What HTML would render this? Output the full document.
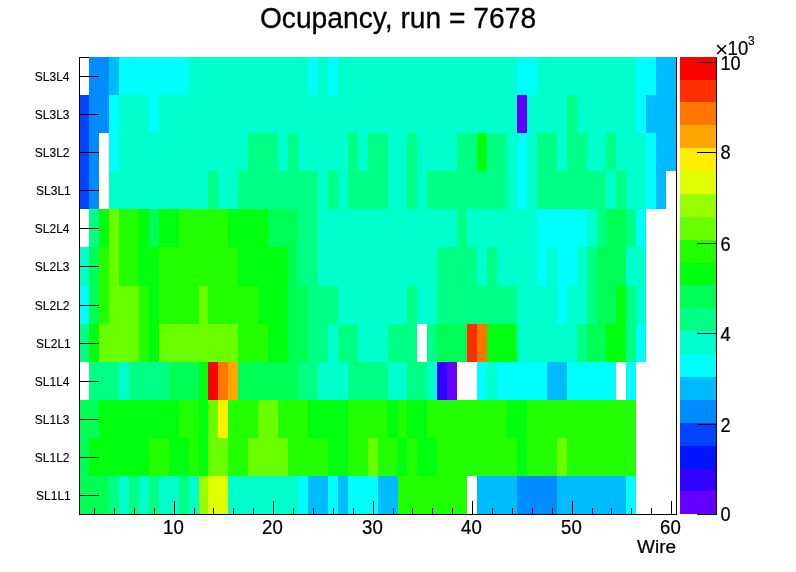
<!DOCTYPE html>
<html><head><meta charset="utf-8"><title>Ocupancy, run = 7678</title>
<style>
html,body{margin:0;padding:0;background:#fff;}
svg{display:block;}
text{font-family:"Liberation Sans",sans-serif;fill:#000;}
</style></head><body>
<svg width="796" height="572" viewBox="0 0 796 572">
<rect x="0" y="0" width="796" height="572" fill="#fff"/>
<g shape-rendering="crispEdges">
<rect x="79" y="57" width="598" height="1" fill="#000"/>
<rect x="89" y="57" width="20" height="38" fill="#008bff"/>
<rect x="109" y="57" width="10" height="38" fill="#00bbff"/>
<rect x="119" y="57" width="70" height="38" fill="#00fffc"/>
<rect x="189" y="57" width="119" height="38" fill="#00ffcc"/>
<rect x="308" y="57" width="10" height="38" fill="#00fffc"/>
<rect x="318" y="57" width="10" height="38" fill="#00ffcc"/>
<rect x="328" y="57" width="10" height="38" fill="#00fffc"/>
<rect x="338" y="57" width="179" height="38" fill="#00ffcc"/>
<rect x="517" y="57" width="20" height="38" fill="#00fffc"/>
<rect x="537" y="57" width="99" height="38" fill="#00ffcc"/>
<rect x="636" y="57" width="20" height="38" fill="#00fffc"/>
<rect x="656" y="57" width="20" height="38" fill="#00bbff"/>
<rect x="80" y="95" width="9" height="38" fill="#0044ff"/>
<rect x="89" y="95" width="20" height="38" fill="#008bff"/>
<rect x="109" y="95" width="10" height="38" fill="#00fffc"/>
<rect x="119" y="95" width="30" height="38" fill="#00ffcc"/>
<rect x="149" y="95" width="10" height="38" fill="#00fffc"/>
<rect x="159" y="95" width="358" height="38" fill="#00ffcc"/>
<rect x="517" y="95" width="10" height="38" fill="#6300ff"/>
<rect x="527" y="95" width="40" height="38" fill="#00ffcc"/>
<rect x="567" y="95" width="10" height="38" fill="#00ff85"/>
<rect x="577" y="95" width="59" height="38" fill="#00ffcc"/>
<rect x="636" y="95" width="10" height="38" fill="#00fffc"/>
<rect x="646" y="95" width="30" height="38" fill="#00bbff"/>
<rect x="80" y="133" width="9" height="38" fill="#0044ff"/>
<rect x="89" y="133" width="10" height="38" fill="#008bff"/>
<rect x="109" y="133" width="10" height="38" fill="#00fffc"/>
<rect x="119" y="133" width="129" height="38" fill="#00ffcc"/>
<rect x="248" y="133" width="30" height="38" fill="#00ff85"/>
<rect x="278" y="133" width="10" height="38" fill="#00ffcc"/>
<rect x="288" y="133" width="10" height="38" fill="#00ff85"/>
<rect x="298" y="133" width="50" height="38" fill="#00ffcc"/>
<rect x="348" y="133" width="10" height="38" fill="#00ff85"/>
<rect x="358" y="133" width="10" height="38" fill="#00ffcc"/>
<rect x="368" y="133" width="20" height="38" fill="#00ff85"/>
<rect x="388" y="133" width="19" height="38" fill="#00ffcc"/>
<rect x="407" y="133" width="10" height="38" fill="#00ff85"/>
<rect x="417" y="133" width="40" height="38" fill="#00ffcc"/>
<rect x="457" y="133" width="20" height="38" fill="#00ff85"/>
<rect x="477" y="133" width="10" height="38" fill="#00ff0e"/>
<rect x="487" y="133" width="20" height="38" fill="#00ff85"/>
<rect x="507" y="133" width="10" height="38" fill="#00ffcc"/>
<rect x="517" y="133" width="10" height="38" fill="#00fffc"/>
<rect x="527" y="133" width="10" height="38" fill="#00ffcc"/>
<rect x="537" y="133" width="20" height="38" fill="#00ff85"/>
<rect x="557" y="133" width="10" height="38" fill="#00ffcc"/>
<rect x="567" y="133" width="20" height="38" fill="#00ff85"/>
<rect x="587" y="133" width="19" height="38" fill="#00ffcc"/>
<rect x="606" y="133" width="10" height="38" fill="#00ff85"/>
<rect x="616" y="133" width="30" height="38" fill="#00ffcc"/>
<rect x="646" y="133" width="10" height="38" fill="#00fffc"/>
<rect x="656" y="133" width="20" height="38" fill="#00bbff"/>
<rect x="80" y="171" width="9" height="38" fill="#0044ff"/>
<rect x="89" y="171" width="10" height="38" fill="#008bff"/>
<rect x="109" y="171" width="99" height="38" fill="#00ffcc"/>
<rect x="208" y="171" width="10" height="38" fill="#00ff85"/>
<rect x="218" y="171" width="20" height="38" fill="#00ffcc"/>
<rect x="238" y="171" width="80" height="38" fill="#00ff85"/>
<rect x="318" y="171" width="10" height="38" fill="#00ffcc"/>
<rect x="328" y="171" width="10" height="38" fill="#00ff85"/>
<rect x="338" y="171" width="10" height="38" fill="#00ffcc"/>
<rect x="348" y="171" width="40" height="38" fill="#00ff85"/>
<rect x="388" y="171" width="19" height="38" fill="#00ffcc"/>
<rect x="407" y="171" width="10" height="38" fill="#00ff85"/>
<rect x="417" y="171" width="10" height="38" fill="#00ffcc"/>
<rect x="427" y="171" width="80" height="38" fill="#00ff85"/>
<rect x="507" y="171" width="10" height="38" fill="#00ffcc"/>
<rect x="517" y="171" width="10" height="38" fill="#00fffc"/>
<rect x="527" y="171" width="10" height="38" fill="#00ffcc"/>
<rect x="537" y="171" width="69" height="38" fill="#00ff85"/>
<rect x="606" y="171" width="10" height="38" fill="#00ffcc"/>
<rect x="616" y="171" width="10" height="38" fill="#00ff85"/>
<rect x="626" y="171" width="20" height="38" fill="#00ffcc"/>
<rect x="646" y="171" width="10" height="38" fill="#00fffc"/>
<rect x="656" y="171" width="10" height="38" fill="#00bbff"/>
<rect x="89" y="209" width="10" height="38" fill="#00ff85"/>
<rect x="99" y="209" width="10" height="38" fill="#00ff0e"/>
<rect x="109" y="209" width="10" height="38" fill="#69ff00"/>
<rect x="119" y="209" width="20" height="38" fill="#22ff00"/>
<rect x="139" y="209" width="10" height="38" fill="#00ff0e"/>
<rect x="149" y="209" width="10" height="38" fill="#00ff55"/>
<rect x="159" y="209" width="20" height="38" fill="#00ff0e"/>
<rect x="179" y="209" width="49" height="38" fill="#22ff00"/>
<rect x="228" y="209" width="40" height="38" fill="#00ff0e"/>
<rect x="268" y="209" width="30" height="38" fill="#00ff55"/>
<rect x="298" y="209" width="20" height="38" fill="#00ff85"/>
<rect x="318" y="209" width="139" height="38" fill="#00ffcc"/>
<rect x="457" y="209" width="10" height="38" fill="#00ff85"/>
<rect x="467" y="209" width="70" height="38" fill="#00ffcc"/>
<rect x="537" y="209" width="50" height="38" fill="#00fffc"/>
<rect x="587" y="209" width="10" height="38" fill="#00ffcc"/>
<rect x="597" y="209" width="9" height="38" fill="#00ff85"/>
<rect x="606" y="209" width="20" height="38" fill="#00ff55"/>
<rect x="626" y="209" width="10" height="38" fill="#00ff85"/>
<rect x="636" y="209" width="10" height="38" fill="#00fffc"/>
<rect x="80" y="247" width="9" height="39" fill="#00ffcc"/>
<rect x="89" y="247" width="10" height="39" fill="#00ff55"/>
<rect x="99" y="247" width="10" height="39" fill="#22ff00"/>
<rect x="109" y="247" width="10" height="39" fill="#69ff00"/>
<rect x="119" y="247" width="20" height="39" fill="#22ff00"/>
<rect x="139" y="247" width="20" height="39" fill="#00ff0e"/>
<rect x="159" y="247" width="79" height="39" fill="#22ff00"/>
<rect x="238" y="247" width="50" height="39" fill="#00ff0e"/>
<rect x="288" y="247" width="10" height="39" fill="#00ff55"/>
<rect x="298" y="247" width="20" height="39" fill="#00ff85"/>
<rect x="318" y="247" width="119" height="39" fill="#00ffcc"/>
<rect x="437" y="247" width="40" height="39" fill="#00ff85"/>
<rect x="477" y="247" width="10" height="39" fill="#00ffcc"/>
<rect x="487" y="247" width="10" height="39" fill="#00ff85"/>
<rect x="497" y="247" width="40" height="39" fill="#00ffcc"/>
<rect x="537" y="247" width="10" height="39" fill="#00fffc"/>
<rect x="547" y="247" width="10" height="39" fill="#00ffcc"/>
<rect x="557" y="247" width="20" height="39" fill="#00fffc"/>
<rect x="577" y="247" width="10" height="39" fill="#00ffcc"/>
<rect x="587" y="247" width="10" height="39" fill="#00ff85"/>
<rect x="597" y="247" width="29" height="39" fill="#00ff55"/>
<rect x="626" y="247" width="20" height="39" fill="#00ffcc"/>
<rect x="80" y="286" width="9" height="38" fill="#00fffc"/>
<rect x="89" y="286" width="10" height="38" fill="#00ff55"/>
<rect x="99" y="286" width="10" height="38" fill="#22ff00"/>
<rect x="109" y="286" width="30" height="38" fill="#69ff00"/>
<rect x="139" y="286" width="10" height="38" fill="#22ff00"/>
<rect x="149" y="286" width="10" height="38" fill="#00ff0e"/>
<rect x="159" y="286" width="40" height="38" fill="#22ff00"/>
<rect x="199" y="286" width="9" height="38" fill="#69ff00"/>
<rect x="208" y="286" width="50" height="38" fill="#22ff00"/>
<rect x="258" y="286" width="30" height="38" fill="#00ff0e"/>
<rect x="288" y="286" width="20" height="38" fill="#00ff55"/>
<rect x="308" y="286" width="30" height="38" fill="#00ff85"/>
<rect x="338" y="286" width="69" height="38" fill="#00ffcc"/>
<rect x="407" y="286" width="10" height="38" fill="#00ff85"/>
<rect x="417" y="286" width="20" height="38" fill="#00ffcc"/>
<rect x="437" y="286" width="80" height="38" fill="#00ff85"/>
<rect x="517" y="286" width="40" height="38" fill="#00ffcc"/>
<rect x="557" y="286" width="10" height="38" fill="#00fffc"/>
<rect x="567" y="286" width="20" height="38" fill="#00ffcc"/>
<rect x="587" y="286" width="10" height="38" fill="#00ff85"/>
<rect x="597" y="286" width="19" height="38" fill="#00ff55"/>
<rect x="616" y="286" width="10" height="38" fill="#00ff0e"/>
<rect x="626" y="286" width="10" height="38" fill="#00ff85"/>
<rect x="636" y="286" width="10" height="38" fill="#00ffcc"/>
<rect x="80" y="324" width="9" height="38" fill="#00ff85"/>
<rect x="89" y="324" width="10" height="38" fill="#00ff0e"/>
<rect x="99" y="324" width="40" height="38" fill="#69ff00"/>
<rect x="139" y="324" width="10" height="38" fill="#22ff00"/>
<rect x="149" y="324" width="10" height="38" fill="#00ff0e"/>
<rect x="159" y="324" width="79" height="38" fill="#69ff00"/>
<rect x="238" y="324" width="30" height="38" fill="#22ff00"/>
<rect x="268" y="324" width="20" height="38" fill="#00ff0e"/>
<rect x="288" y="324" width="20" height="38" fill="#00ff55"/>
<rect x="308" y="324" width="20" height="38" fill="#00ff85"/>
<rect x="328" y="324" width="10" height="38" fill="#00ffcc"/>
<rect x="338" y="324" width="20" height="38" fill="#00ff85"/>
<rect x="358" y="324" width="30" height="38" fill="#00ffcc"/>
<rect x="388" y="324" width="29" height="38" fill="#00ff85"/>
<rect x="427" y="324" width="10" height="38" fill="#00ff85"/>
<rect x="437" y="324" width="30" height="38" fill="#00ff55"/>
<rect x="467" y="324" width="10" height="38" fill="#ff3000"/>
<rect x="477" y="324" width="10" height="38" fill="#ff7700"/>
<rect x="487" y="324" width="30" height="38" fill="#00ff0e"/>
<rect x="517" y="324" width="60" height="38" fill="#00ffcc"/>
<rect x="577" y="324" width="10" height="38" fill="#00ff85"/>
<rect x="587" y="324" width="19" height="38" fill="#00ff55"/>
<rect x="606" y="324" width="20" height="38" fill="#00ff0e"/>
<rect x="626" y="324" width="10" height="38" fill="#00ff85"/>
<rect x="636" y="324" width="10" height="38" fill="#00fffc"/>
<rect x="89" y="362" width="30" height="38" fill="#00ff85"/>
<rect x="119" y="362" width="10" height="38" fill="#00ffcc"/>
<rect x="129" y="362" width="40" height="38" fill="#00ff85"/>
<rect x="169" y="362" width="30" height="38" fill="#00ff55"/>
<rect x="199" y="362" width="9" height="38" fill="#00ff0e"/>
<rect x="208" y="362" width="10" height="38" fill="#ff0000"/>
<rect x="218" y="362" width="10" height="38" fill="#ff7700"/>
<rect x="228" y="362" width="10" height="38" fill="#ffa700"/>
<rect x="238" y="362" width="60" height="38" fill="#00ff55"/>
<rect x="298" y="362" width="20" height="38" fill="#00ff85"/>
<rect x="318" y="362" width="30" height="38" fill="#00ffcc"/>
<rect x="348" y="362" width="40" height="38" fill="#00ff85"/>
<rect x="388" y="362" width="19" height="38" fill="#00ffcc"/>
<rect x="407" y="362" width="20" height="38" fill="#00ff85"/>
<rect x="427" y="362" width="10" height="38" fill="#00ffcc"/>
<rect x="437" y="362" width="10" height="38" fill="#3300ff"/>
<rect x="447" y="362" width="10" height="38" fill="#6300ff"/>
<rect x="477" y="362" width="10" height="38" fill="#00fffc"/>
<rect x="487" y="362" width="10" height="38" fill="#00ffcc"/>
<rect x="497" y="362" width="50" height="38" fill="#00fffc"/>
<rect x="547" y="362" width="20" height="38" fill="#00bbff"/>
<rect x="567" y="362" width="49" height="38" fill="#00fffc"/>
<rect x="626" y="362" width="10" height="38" fill="#00fffc"/>
<rect x="80" y="400" width="19" height="38" fill="#00ff55"/>
<rect x="99" y="400" width="80" height="38" fill="#00ff0e"/>
<rect x="179" y="400" width="20" height="38" fill="#22ff00"/>
<rect x="199" y="400" width="9" height="38" fill="#00ff0e"/>
<rect x="208" y="400" width="10" height="38" fill="#69ff00"/>
<rect x="218" y="400" width="10" height="38" fill="#ffee00"/>
<rect x="228" y="400" width="30" height="38" fill="#22ff00"/>
<rect x="258" y="400" width="20" height="38" fill="#69ff00"/>
<rect x="278" y="400" width="30" height="38" fill="#22ff00"/>
<rect x="308" y="400" width="40" height="38" fill="#00ff0e"/>
<rect x="348" y="400" width="40" height="38" fill="#22ff00"/>
<rect x="388" y="400" width="10" height="38" fill="#00ff0e"/>
<rect x="398" y="400" width="9" height="38" fill="#22ff00"/>
<rect x="407" y="400" width="20" height="38" fill="#00ff0e"/>
<rect x="427" y="400" width="80" height="38" fill="#22ff00"/>
<rect x="507" y="400" width="20" height="38" fill="#00ff0e"/>
<rect x="527" y="400" width="109" height="38" fill="#22ff00"/>
<rect x="80" y="438" width="9" height="38" fill="#00ff55"/>
<rect x="89" y="438" width="60" height="38" fill="#00ff0e"/>
<rect x="149" y="438" width="20" height="38" fill="#22ff00"/>
<rect x="169" y="438" width="20" height="38" fill="#00ff0e"/>
<rect x="189" y="438" width="10" height="38" fill="#22ff00"/>
<rect x="199" y="438" width="9" height="38" fill="#00ff0e"/>
<rect x="208" y="438" width="20" height="38" fill="#69ff00"/>
<rect x="228" y="438" width="20" height="38" fill="#22ff00"/>
<rect x="248" y="438" width="40" height="38" fill="#69ff00"/>
<rect x="288" y="438" width="40" height="38" fill="#22ff00"/>
<rect x="328" y="438" width="20" height="38" fill="#00ff0e"/>
<rect x="348" y="438" width="20" height="38" fill="#22ff00"/>
<rect x="368" y="438" width="10" height="38" fill="#69ff00"/>
<rect x="378" y="438" width="20" height="38" fill="#22ff00"/>
<rect x="398" y="438" width="9" height="38" fill="#00ff0e"/>
<rect x="407" y="438" width="10" height="38" fill="#22ff00"/>
<rect x="417" y="438" width="20" height="38" fill="#00ff0e"/>
<rect x="437" y="438" width="80" height="38" fill="#22ff00"/>
<rect x="517" y="438" width="10" height="38" fill="#00ff0e"/>
<rect x="527" y="438" width="30" height="38" fill="#22ff00"/>
<rect x="557" y="438" width="10" height="38" fill="#69ff00"/>
<rect x="567" y="438" width="69" height="38" fill="#22ff00"/>
<rect x="80" y="476" width="29" height="38" fill="#00ff55"/>
<rect x="109" y="476" width="10" height="38" fill="#00ff85"/>
<rect x="119" y="476" width="10" height="38" fill="#00ffcc"/>
<rect x="129" y="476" width="10" height="38" fill="#00ff85"/>
<rect x="139" y="476" width="10" height="38" fill="#00ffcc"/>
<rect x="149" y="476" width="10" height="38" fill="#00ff85"/>
<rect x="159" y="476" width="20" height="38" fill="#00ffcc"/>
<rect x="179" y="476" width="10" height="38" fill="#00ff85"/>
<rect x="189" y="476" width="10" height="38" fill="#00ffcc"/>
<rect x="199" y="476" width="9" height="38" fill="#99ff00"/>
<rect x="208" y="476" width="20" height="38" fill="#e0ff00"/>
<rect x="228" y="476" width="70" height="38" fill="#00ffcc"/>
<rect x="298" y="476" width="10" height="38" fill="#00fffc"/>
<rect x="308" y="476" width="20" height="38" fill="#00bbff"/>
<rect x="328" y="476" width="10" height="38" fill="#00fffc"/>
<rect x="338" y="476" width="10" height="38" fill="#00bbff"/>
<rect x="348" y="476" width="30" height="38" fill="#00fffc"/>
<rect x="378" y="476" width="20" height="38" fill="#00bbff"/>
<rect x="398" y="476" width="69" height="38" fill="#22ff00"/>
<rect x="477" y="476" width="40" height="38" fill="#00bbff"/>
<rect x="517" y="476" width="40" height="38" fill="#008bff"/>
<rect x="557" y="476" width="69" height="38" fill="#00bbff"/>
<rect x="626" y="476" width="10" height="38" fill="#00fffc"/>
<rect x="680" y="491" width="36" height="23" fill="#6300ff"/>
<rect x="680" y="469" width="36" height="22" fill="#3300ff"/>
<rect x="680" y="446" width="36" height="23" fill="#0014ff"/>
<rect x="680" y="423" width="36" height="23" fill="#0044ff"/>
<rect x="680" y="400" width="36" height="23" fill="#008bff"/>
<rect x="680" y="377" width="36" height="23" fill="#00bbff"/>
<rect x="680" y="354" width="36" height="23" fill="#00fffc"/>
<rect x="680" y="331" width="36" height="23" fill="#00ffcc"/>
<rect x="680" y="308" width="36" height="23" fill="#00ff85"/>
<rect x="680" y="285" width="36" height="23" fill="#00ff55"/>
<rect x="680" y="263" width="36" height="22" fill="#00ff0e"/>
<rect x="680" y="240" width="36" height="23" fill="#22ff00"/>
<rect x="680" y="217" width="36" height="23" fill="#69ff00"/>
<rect x="680" y="194" width="36" height="23" fill="#99ff00"/>
<rect x="680" y="171" width="36" height="23" fill="#e0ff00"/>
<rect x="680" y="148" width="36" height="23" fill="#ffee00"/>
<rect x="680" y="125" width="36" height="23" fill="#ffa700"/>
<rect x="680" y="102" width="36" height="23" fill="#ff7700"/>
<rect x="680" y="80" width="36" height="22" fill="#ff3000"/>
<rect x="680" y="57" width="36" height="23" fill="#ff0000"/>
<rect x="79" y="57" width="1" height="458" fill="#000"/>
<rect x="676" y="57" width="1" height="458" fill="#000"/>
<rect x="79" y="514" width="598" height="1" fill="#000"/>
<rect x="716" y="57" width="1" height="458" fill="#000"/>
<rect x="94" y="508" width="1" height="6" fill="#000"/>
<rect x="114" y="508" width="1" height="6" fill="#000"/>
<rect x="134" y="508" width="1" height="6" fill="#000"/>
<rect x="154" y="508" width="1" height="6" fill="#000"/>
<rect x="174" y="501" width="1" height="13" fill="#000"/>
<rect x="194" y="508" width="1" height="6" fill="#000"/>
<rect x="213" y="508" width="1" height="6" fill="#000"/>
<rect x="233" y="508" width="1" height="6" fill="#000"/>
<rect x="253" y="508" width="1" height="6" fill="#000"/>
<rect x="273" y="501" width="1" height="13" fill="#000"/>
<rect x="293" y="508" width="1" height="6" fill="#000"/>
<rect x="313" y="508" width="1" height="6" fill="#000"/>
<rect x="333" y="508" width="1" height="6" fill="#000"/>
<rect x="353" y="508" width="1" height="6" fill="#000"/>
<rect x="373" y="501" width="1" height="13" fill="#000"/>
<rect x="393" y="508" width="1" height="6" fill="#000"/>
<rect x="412" y="508" width="1" height="6" fill="#000"/>
<rect x="432" y="508" width="1" height="6" fill="#000"/>
<rect x="452" y="508" width="1" height="6" fill="#000"/>
<rect x="472" y="501" width="1" height="13" fill="#000"/>
<rect x="492" y="508" width="1" height="6" fill="#000"/>
<rect x="512" y="508" width="1" height="6" fill="#000"/>
<rect x="532" y="508" width="1" height="6" fill="#000"/>
<rect x="552" y="508" width="1" height="6" fill="#000"/>
<rect x="572" y="501" width="1" height="13" fill="#000"/>
<rect x="592" y="508" width="1" height="6" fill="#000"/>
<rect x="611" y="508" width="1" height="6" fill="#000"/>
<rect x="631" y="508" width="1" height="6" fill="#000"/>
<rect x="651" y="508" width="1" height="6" fill="#000"/>
<rect x="671" y="501" width="1" height="13" fill="#000"/>
<rect x="79" y="76" width="20" height="1" fill="#000"/>
<rect x="79" y="114" width="20" height="1" fill="#000"/>
<rect x="79" y="152" width="20" height="1" fill="#000"/>
<rect x="79" y="190" width="20" height="1" fill="#000"/>
<rect x="79" y="228" width="20" height="1" fill="#000"/>
<rect x="79" y="266" width="20" height="1" fill="#000"/>
<rect x="79" y="305" width="20" height="1" fill="#000"/>
<rect x="79" y="343" width="20" height="1" fill="#000"/>
<rect x="79" y="381" width="20" height="1" fill="#000"/>
<rect x="79" y="419" width="20" height="1" fill="#000"/>
<rect x="79" y="457" width="20" height="1" fill="#000"/>
<rect x="79" y="495" width="20" height="1" fill="#000"/>
<rect x="697" y="514" width="20" height="1" fill="#000"/>
<rect x="697" y="424" width="20" height="1" fill="#000"/>
<rect x="697" y="333" width="20" height="1" fill="#000"/>
<rect x="697" y="243" width="20" height="1" fill="#000"/>
<rect x="697" y="152" width="20" height="1" fill="#000"/>
<rect x="697" y="62" width="20" height="1" fill="#000"/>
</g>
<text transform="translate(398,28.2) scale(0.95,1)" font-size="29.7" text-anchor="middle" stroke="#000" stroke-width="0.3">Ocupancy, run = 7678</text>
<text x="69.5" y="81" font-size="12" text-anchor="end" stroke="#000" stroke-width="0.12">SL3L4</text>
<text x="69.5" y="119" font-size="12" text-anchor="end" stroke="#000" stroke-width="0.12">SL3L3</text>
<text x="69.5" y="157" font-size="12" text-anchor="end" stroke="#000" stroke-width="0.12">SL3L2</text>
<text x="70.8" y="195" font-size="12" text-anchor="end" stroke="#000" stroke-width="0.12">SL3L1</text>
<text x="69.5" y="233" font-size="12" text-anchor="end" stroke="#000" stroke-width="0.12">SL2L4</text>
<text x="69.5" y="271" font-size="12" text-anchor="end" stroke="#000" stroke-width="0.12">SL2L3</text>
<text x="69.5" y="310" font-size="12" text-anchor="end" stroke="#000" stroke-width="0.12">SL2L2</text>
<text x="70.8" y="348" font-size="12" text-anchor="end" stroke="#000" stroke-width="0.12">SL2L1</text>
<text x="69.5" y="386" font-size="12" text-anchor="end" stroke="#000" stroke-width="0.12">SL1L4</text>
<text x="69.5" y="424" font-size="12" text-anchor="end" stroke="#000" stroke-width="0.12">SL1L3</text>
<text x="69.5" y="462" font-size="12" text-anchor="end" stroke="#000" stroke-width="0.12">SL1L2</text>
<text x="70.8" y="500" font-size="12" text-anchor="end" stroke="#000" stroke-width="0.12">SL1L1</text>
<text transform="translate(173.4,533.7) scale(0.955,1)" font-size="19.5" text-anchor="middle" stroke="#000" stroke-width="0.25">10</text>
<text transform="translate(272.4,533.7) scale(0.955,1)" font-size="19.5" text-anchor="middle" stroke="#000" stroke-width="0.25">20</text>
<text transform="translate(372.4,533.7) scale(0.955,1)" font-size="19.5" text-anchor="middle" stroke="#000" stroke-width="0.25">30</text>
<text transform="translate(471.4,533.7) scale(0.955,1)" font-size="19.5" text-anchor="middle" stroke="#000" stroke-width="0.25">40</text>
<text transform="translate(571.4,533.7) scale(0.955,1)" font-size="19.5" text-anchor="middle" stroke="#000" stroke-width="0.25">50</text>
<text transform="translate(670.4,533.7) scale(0.955,1)" font-size="19.5" text-anchor="middle" stroke="#000" stroke-width="0.25">60</text>
<text transform="translate(676,552.8) scale(1.025,1)" font-size="18.5" text-anchor="end" stroke="#000" stroke-width="0.25">Wire</text>
<text transform="translate(720.5,521.0) scale(0.94,1)" font-size="19.3" stroke="#000" stroke-width="0.25">0</text>
<text transform="translate(720.5,432.0) scale(0.94,1)" font-size="19.3" stroke="#000" stroke-width="0.25">2</text>
<text transform="translate(720.5,341.2) scale(0.94,1)" font-size="19.3" stroke="#000" stroke-width="0.25">4</text>
<text transform="translate(720.5,250.7) scale(0.94,1)" font-size="19.3" stroke="#000" stroke-width="0.25">6</text>
<text transform="translate(720.5,159.0) scale(0.94,1)" font-size="19.3" stroke="#000" stroke-width="0.25">8</text>
<text transform="translate(720.5,69.5) scale(0.94,1)" font-size="19.3" stroke="#000" stroke-width="0.25">10</text>
<text x="715" y="57.2" font-size="22.5">×</text>
<text transform="translate(727.6,55) scale(0.95,1)" font-size="19.6" stroke="#000" stroke-width="0.2">10</text>
<text x="748" y="45" font-size="12" stroke="#000" stroke-width="0.15">3</text>
</svg>
</body></html>
